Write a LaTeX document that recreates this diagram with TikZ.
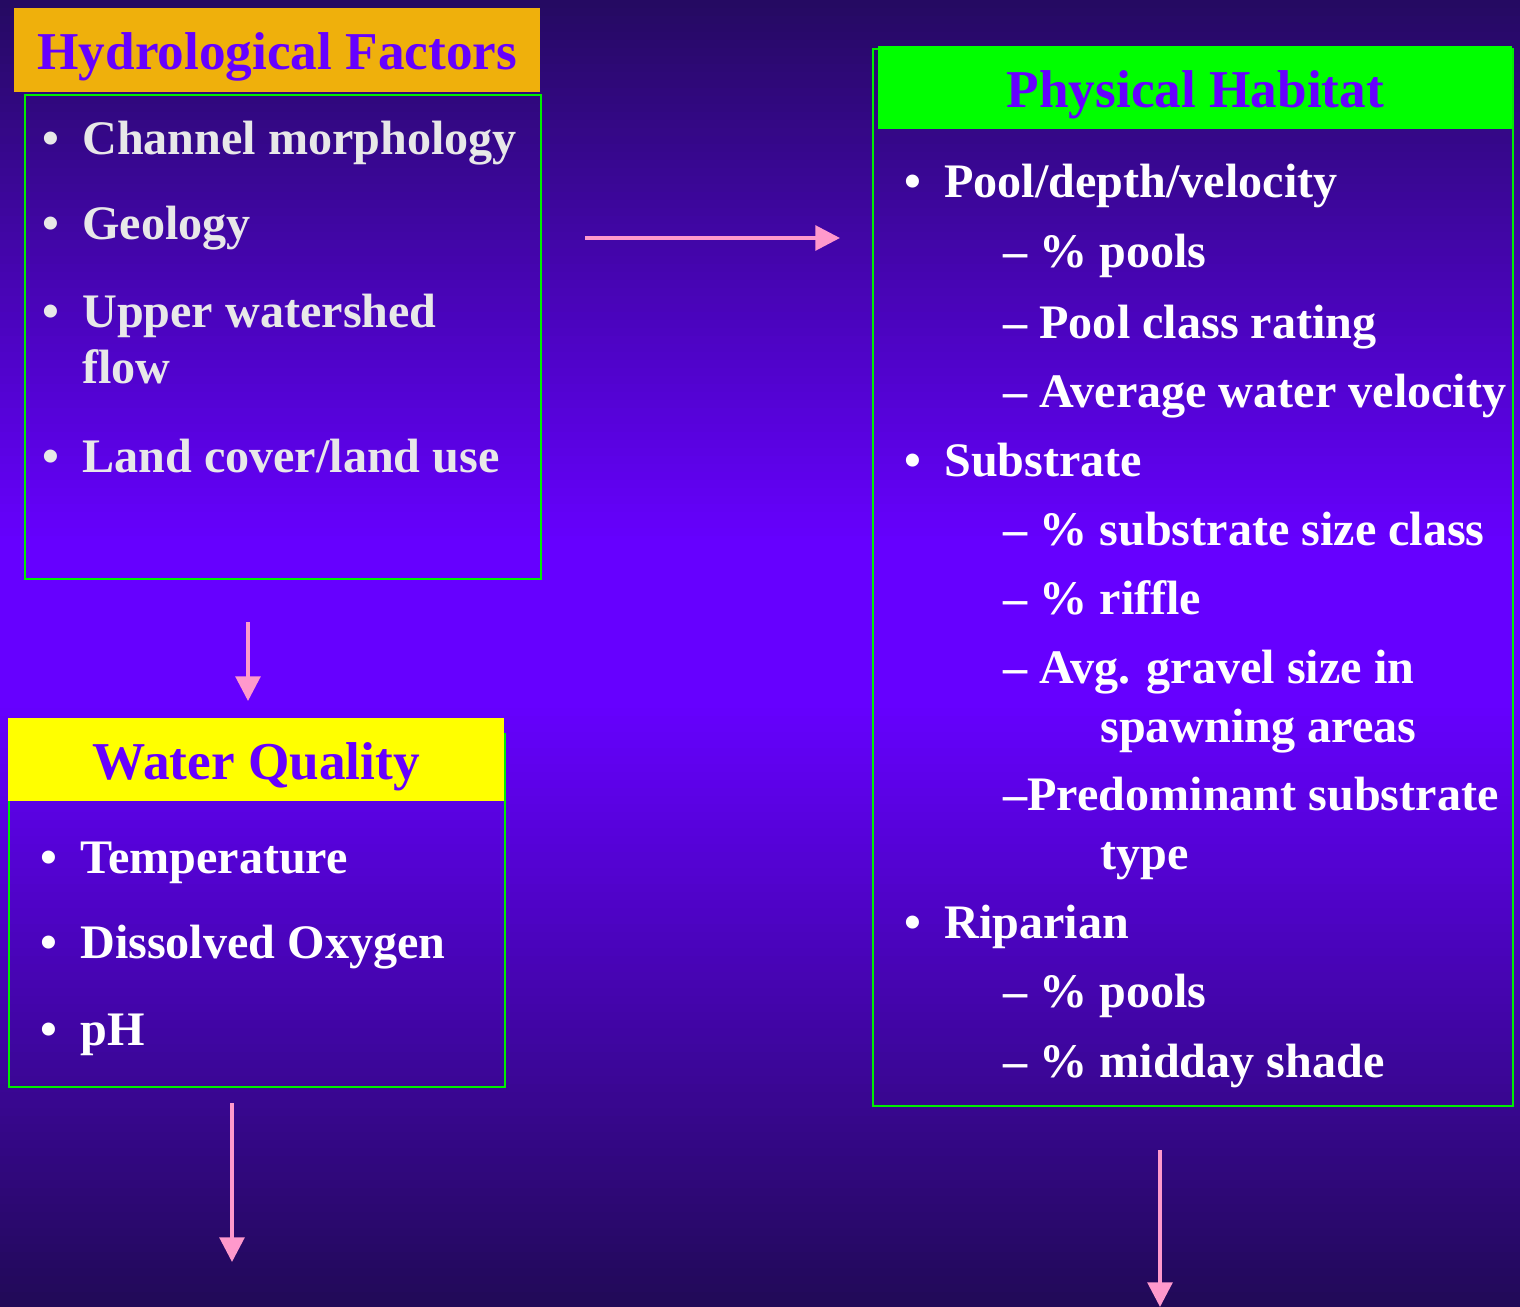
\documentclass[tikz,border=0pt]{standalone}
\usepackage{fontspec}
\setmainfont{Liberation Serif}
\usepackage{xcolor}
\usetikzlibrary{arrows.meta,positioning,calc}

\definecolor{bgtop}{HTML}{250A62}
\definecolor{bgmid}{HTML}{6600FF}
\definecolor{bgbot}{HTML}{200A55}
\definecolor{headtxt}{HTML}{6600FF}
\definecolor{headorange}{HTML}{EFB00C}
\definecolor{headyellow}{HTML}{FFFF00}
\definecolor{headgreen}{HTML}{00FF00}
\definecolor{framegreen}{HTML}{00EE00}
\definecolor{flowpink}{HTML}{FF99CC}
\definecolor{greytxt}{HTML}{E8E8E8}

\newcommand{\bul}{\llap{\textbullet\hspace{13pt}}}

\begin{document}
\begin{tikzpicture}[
    x=0.02cm, y=-0.02cm,
    head/.style={rectangle, inner sep=0pt, anchor=north west, text=headtxt, text height=22pt, text depth=0pt, font=\fontsize{30.3}{34}\selectfont\bfseries},
    frame/.style={rectangle, draw=framegreen, line width=1.4pt, inner sep=0pt, anchor=north west},
    item/.style={anchor=base west, inner sep=0pt, text=white, font=\fontsize{27.4}{32}\selectfont\bfseries},
    flow/.style={draw=flowpink, line width=2.2pt, -{Triangle[width=14pt,length=14pt]}}
  ]

  % background
  \useasboundingbox (0,0) rectangle (1520,1307);
  \foreach \y in {0,8,...,536} {
    \pgfmathsetmacro\p{\y/5.4}
    \fill[bgmid!\p!bgtop] (0,\y) rectangle (1520,\y+9);
  }
  \fill[bgmid] (0,540) rectangle (1520,700);
  \foreach \y in {700,708,...,1300} {
    \pgfmathsetmacro\p{(1307-\y)/6.07}
    \fill[bgmid!\p!bgbot] (0,\y) rectangle (1520,\y+9);
  }

  % hydrological factors
  \node[frame, minimum width=10.32cm, minimum height=9.68cm] (hydrobox) at (24,94) {};
  \node[head, fill=headorange, minimum width=10.52cm, minimum height=1.68cm] (hydrohead) at (14,8) {Hydrological Factors};
  \node[item, text=greytxt] (hf1) at (82,155) {\bul Channel morphology};
  \node[item, text=greytxt] (hf2) at (82,240) {\bul Geology};
  \node[item, text=greytxt] (hf3) at (82,327) {\bul Upper watershed};
  \node[item, text=greytxt] (hf3b) at (82,383) {flow};
  \node[item, text=greytxt] (hf4) at (82,472) {\bul Land cover/land use};

  % water quality
  \node[frame, minimum width=9.92cm, minimum height=7.06cm] (wqbox) at (8,733) {};
  \node[head, fill=headyellow, minimum width=9.92cm, minimum height=1.66cm] (wqhead) at (8,718) {Water Quality};
  \node[item] (wq1) at (80,873) {\bul Temperature};
  \node[item] (wq2) at (80,958) {\bul Dissolved Oxygen};
  \node[item] (wq3) at (80,1045) {\bul pH};

  % physical habitat
  \node[frame, minimum width=12.8cm, minimum height=21.14cm] (phbox) at (872,48) {};
  \node[head, fill=headgreen, minimum width=12.68cm, minimum height=1.66cm] (phhead) at (878,46) {Physical Habitat};
  \node[item] (ph1) at (944,198) {\bul Pool/depth/velocity};
  \node[item] (ph1a) at (1003,268) {– \% pools};
  \node[item] (ph1b) at (1003,338) {– Pool class rating};
  \node[item] (ph1c) at (1003,407) {– Average water velocity};
  \node[item] (ph2) at (944,476) {\bul Substrate};
  \node[item] (ph2a) at (1003,545) {– \% substrate size class};
  \node[item] (ph2b) at (1003,614) {– \% riffle};
  \node[item] (ph2c) at (1003,683) {– Avg. gravel size in};
  \node[item] (ph2cc) at (1100,742) {spawning areas};
  \node[item] (ph2d) at (1003,810) {–Predominant substrate};
  \node[item] (ph2dd) at (1100,869) {type};
  \node[item] (ph3) at (944,938) {\bul Riparian};
  \node[item] (ph3a) at (1003,1007) {– \% pools};
  \node[item] (ph3b) at (1003,1077) {– \% midday shade};

  % arrows
  \coordinate (hfout) at (585,238);
  \coordinate (phin) at (840,238);
  \coordinate (hfdown) at (248,622);
  \coordinate (wqin) at (248,701);
  \coordinate (wqdown) at (232,1103);
  \coordinate (wqend) at (232,1262);
  \coordinate (phdown) at (1160,1150);
  \coordinate (phend) at (1160,1307);
  \draw[flow] (hfout) -- (phin);
  \draw[flow] (hfdown) -- (wqin);
  \draw[flow] (wqdown) -- (wqend);
  \draw[flow] (phdown) -- (phend);

\end{tikzpicture}
\end{document}
